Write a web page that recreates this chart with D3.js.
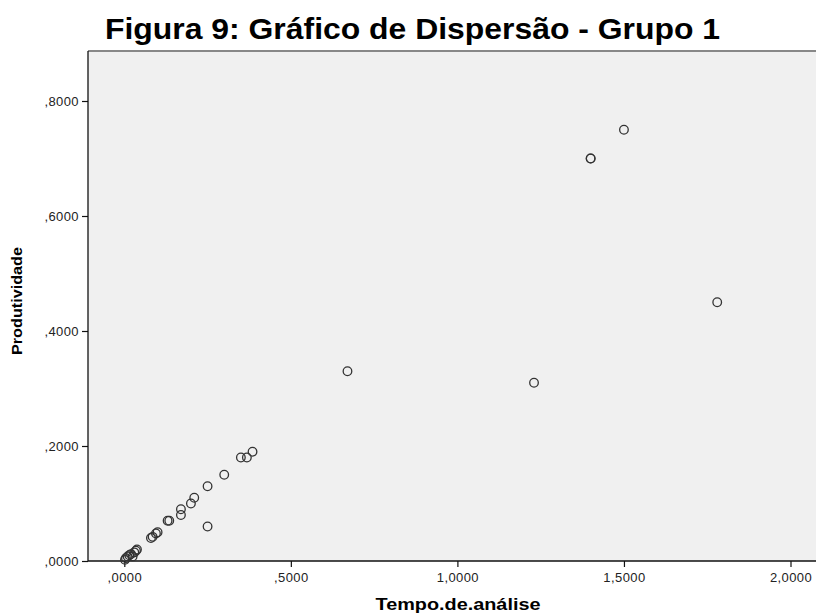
<!DOCTYPE html>
<html>
<head>
<meta charset="utf-8">
<script src="https://cdn.jsdelivr.net/npm/d3@7"></script>
<style>
  body { margin: 0; background: #fff; }
  svg { display: block; font-family: "Liberation Sans", Arial, sans-serif; }
</style>
</head>
<body>
<svg id="chart" width="816" height="614"></svg>
<script>
// Tempo.de.análise vs Produtividade
const tempo = [0.002, 0.005, 0.010, 0.015, 0.020, 0.025, 0.030, 0.035, 0.038,
  0.080, 0.085, 0.095, 0.100, 0.130, 0.135, 0.170, 0.170, 0.200, 0.210,
  0.250, 0.250, 0.300, 0.350, 0.368, 0.385, 0.670, 1.230, 1.400, 1.400, 1.500, 1.780];
const produtividade = [0.002, 0.005, 0.008, 0.010, 0.012, 0.008, 0.015, 0.018, 0.020,
  0.040, 0.042, 0.048, 0.050, 0.070, 0.070, 0.080, 0.090, 0.100, 0.110,
  0.130, 0.060, 0.150, 0.180, 0.180, 0.190, 0.330, 0.310, 0.700, 0.700, 0.750, 0.450];
const xTicks = [0, 0.5, 1.0, 1.5, 2.0];
const yTicks = [0, 0.2, 0.4, 0.6, 0.8];

const svg = d3.select('#chart');
const W = 816, H = 614;
const plot = { left: 88, top: 51, right: W, bottom: 561 };

const x = d3.scaleLinear().domain([0, 2]).range([124.3, 790.5]);
const y = d3.scaleLinear().domain([0, 0.8]).range([561, 101]);

// SPSS style numbers: ",8000", "1,5000"
const fmt = d => d3.format('.4f')(d).replace('.', ',').replace(/^0,/, ',');

// Plot background + top border
svg.append('rect')
  .attr('x', plot.left).attr('y', plot.top)
  .attr('width', plot.right - plot.left).attr('height', plot.bottom - plot.top)
  .attr('fill', '#f0f0f0');
svg.append('line')
  .attr('x1', plot.left).attr('x2', plot.right)
  .attr('y1', plot.top).attr('y2', plot.top)
  .attr('stroke', '#888').attr('stroke-width', 2);

// Axes
const xAxis = d3.axisBottom(x).tickValues(xTicks).tickFormat(fmt).tickSize(6).tickSizeOuter(0);
const yAxis = d3.axisLeft(y).tickValues(yTicks).tickFormat(fmt).tickSize(6).tickSizeOuter(0);

const gx = svg.append('g').attr('transform', `translate(0,${plot.bottom})`).call(xAxis);
gx.select('.domain').remove();
svg.append('line')
  .attr('x1', plot.left).attr('x2', plot.right)
  .attr('y1', plot.bottom).attr('y2', plot.bottom)
  .attr('stroke', '#111').attr('stroke-width', 1.3);

const gy = svg.append('g').attr('transform', `translate(${plot.left},0)`).call(yAxis);
gy.select('.domain').remove();
svg.append('line')
  .attr('x1', plot.left).attr('x2', plot.left)
  .attr('y1', plot.top).attr('y2', plot.bottom)
  .attr('stroke', '#111').attr('stroke-width', 1.3);

svg.selectAll('.tick line').attr('stroke', '#111').attr('stroke-width', 1.2);
gx.attr('font-size', 13).attr('font-family', null);
gy.attr('font-size', 13).attr('font-family', null);
svg.selectAll('.tick text')
  .attr('fill', '#222')
  .attr('letter-spacing', '0.4px');
gx.selectAll('.tick text').attr('dy', null).attr('y', 21);
gy.selectAll('.tick text').attr('x', -9);

// Points
svg.append('g')
  .selectAll('circle')
  .data(tempo.map((t, i) => ({ t, p: produtividade[i] })))
  .join('circle')
  .attr('cx', d => x(d.t))
  .attr('cy', d => y(d.p))
  .attr('r', 4.3)
  .attr('fill', 'none')
  .attr('stroke', '#333')
  .attr('stroke-width', 1.3);

// Title
svg.append('text')
  .attr('x', 105).attr('y', 39)
  .attr('font-size', '30px').attr('font-weight', 'bold').attr('fill', '#000')
  .attr('textLength', 615).attr('lengthAdjust', 'spacingAndGlyphs')
  .text('Figura 9: Gráfico de Dispersão - Grupo 1');

// Axis titles
svg.append('text')
  .attr('x', 458).attr('y', 610)
  .attr('text-anchor', 'middle')
  .attr('font-size', '17px').attr('font-weight', 'bold').attr('fill', '#000')
  .attr('textLength', 165).attr('lengthAdjust', 'spacingAndGlyphs')
  .text('Tempo.de.análise');

svg.append('text')
  .attr('transform', 'translate(22,301) rotate(-90)')
  .attr('text-anchor', 'middle')
  .attr('font-size', '14px').attr('font-weight', 'bold').attr('fill', '#000')
  .attr('textLength', 108).attr('lengthAdjust', 'spacingAndGlyphs')
  .text('Produtividade');
</script>
</body>
</html>
